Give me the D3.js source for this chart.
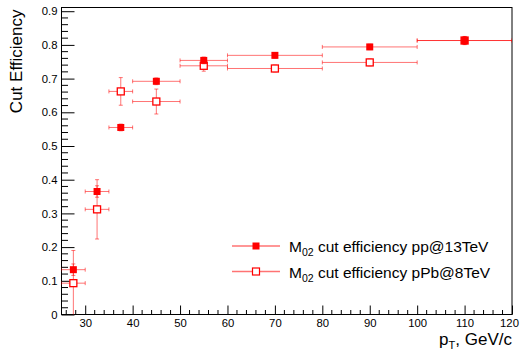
<!DOCTYPE html>
<html><head><meta charset="utf-8">
<script src="https://cdn.jsdelivr.net/npm/d3@7"></script>
<style>body{margin:0;background:#fff}svg{display:block}text{font-family:"Liberation Sans",Arial,sans-serif}</style>
</head><body><svg id="c" width="520" height="353"></svg>
<script>
const binLow  = [25, 30, 35, 40, 50, 60, 80, 100];
const binHigh = [30, 35, 40, 50, 60, 80, 100, 120];
const ppValues  = [0.133, 0.365, 0.555, 0.692, 0.754, 0.769, 0.794, 0.813];
const ppErrors  = [0.017, 0.017, 0.010, 0.010, 0.010, 0.008, 0.008, 0.012];
const pPbValues = [0.093, 0.312, 0.662, 0.632, 0.738, 0.730, 0.748, 0.813];
const pPbErrors = [0.097, 0.088, 0.041, 0.037, 0.016, 0.010, 0.010, 0.012];
const xTicks = [30, 40, 50, 60, 70, 80, 90, 100, 110, 120];
const yTicks = [0, 0.1, 0.2, 0.3, 0.4, 0.5, 0.6, 0.7, 0.8, 0.9];
const legendLabels = ["pp@13TeV", "pPb@8TeV"];

const svg = d3.select("#c");
const L = 61.5, R = 512, T = 7.5, B = 314.5;
const x = d3.scaleLinear().domain([25, 120]).range([L, R]);
const y = d3.scaleLinear().domain([0, 0.911]).range([B, T]);

svg.append("defs").append("clipPath").attr("id","pc")
  .append("rect").attr("x",L).attr("y",T).attr("width",R-L).attr("height",B-T);

// Axes
const xAxis = d3.axisBottom(x).tickValues(xTicks).tickFormat(d3.format("d")).tickSize(-9).tickPadding(4.5);
const gx = svg.append("g").attr("transform",`translate(0,${B})`).call(xAxis);
const xMinor = d3.range(26, 121, 2).filter(v => v % 10 !== 0);
gx.selectAll(".minor").data(xMinor).enter().append("line")
  .attr("x1",d=>x(d)).attr("x2",d=>x(d)).attr("y1",0).attr("y2",-4.5).attr("stroke","#000");
const yAxis = d3.axisLeft(y).tickValues(yTicks).tickFormat(d => d === 0 ? "0" : d3.format(".1f")(d)).tickSize(-13).tickPadding(4);
const gy = svg.append("g").attr("transform",`translate(${L},0)`).call(yAxis);
const yMinor = d3.range(0.02, 0.911, 0.02).filter(v => Math.abs(v*10 - Math.round(v*10)) > 1e-6);
gy.selectAll(".minor").data(yMinor).enter().append("line")
  .attr("x1",0).attr("x2",6.5).attr("y1",d=>y(d)).attr("y2",d=>y(d)).attr("stroke","#000");
[gx, gy].forEach(g => {
  g.select(".domain").remove();
  g.selectAll("text").attr("font-size", 11.3).attr("fill","#000").attr("font-family","Liberation Sans, Arial, sans-serif");
  g.selectAll("line").attr("stroke","#000");
});
gx.selectAll(".tick text").filter(d => d === 120).attr("dx", -3);
// frame
svg.append("rect").attr("x",L).attr("y",T).attr("width",R-L).attr("height",B-T)
  .attr("fill","none").attr("stroke","#000").attr("stroke-width",1);

// titles
svg.append("text").attr("transform",`translate(22,${T+2}) rotate(-90)`).attr("text-anchor","end")
  .attr("font-size",17).text("Cut Efficiency");
const xt = svg.append("text").attr("x",R).attr("y",345).attr("text-anchor","end").attr("font-size",17);
xt.append("tspan").text("p");
xt.append("tspan").attr("font-size",11).attr("dy",4).text("T");
xt.append("tspan").attr("dy",-4).text(", GeV/c");

const errCol = "rgba(255,0,0,0.55)";
function drawSeries(vals, errs, filled) {
  const g = svg.append("g").attr("clip-path","url(#pc)");
  const data = vals.map((v,i)=>({lo:binLow[i], hi:binHigh[i], c:(binLow[i]+binHigh[i])/2, v, e:errs[i]}));
  data.forEach(d => {
    g.append("line").attr("x1",x(d.lo)).attr("x2",x(d.hi)).attr("y1",y(d.v)).attr("y2",y(d.v)).attr("stroke",errCol);
    [d.lo, d.hi].forEach(e => g.append("line").attr("x1",x(e)).attr("x2",x(e)).attr("y1",y(d.v)-2).attr("y2",y(d.v)+2).attr("stroke",errCol));
    g.append("line").attr("x1",x(d.c)).attr("x2",x(d.c)).attr("y1",y(d.v+d.e)).attr("y2",y(d.v-d.e)).attr("stroke",errCol);
    [d.v+d.e, d.v-d.e].forEach(e => g.append("line").attr("x1",x(d.c)-2).attr("x2",x(d.c)+2).attr("y1",y(e)).attr("y2",y(e)).attr("stroke",errCol));
  });
  data.forEach(d => {
    if (filled) g.append("rect").attr("x",x(d.c)-3.5).attr("y",y(d.v)-3.5).attr("width",7).attr("height",7).attr("fill","#f00");
    else g.append("rect").attr("x",x(d.c)-3.5).attr("y",y(d.v)-3.5).attr("width",7).attr("height",7).attr("fill","#fff").attr("stroke","#f00").attr("stroke-width",1.3);
  });
}
drawSeries(pPbValues, pPbErrors, false);
drawSeries(ppValues, ppErrors, true);

// legend
legendLabels.forEach((lab, i) => {
  const ly = 246 + i*25.5;
  svg.append("line").attr("x1",232).attr("x2",280).attr("y1",ly).attr("y2",ly).attr("stroke",errCol).attr("stroke-width",1.3);
  if (i===0) svg.append("rect").attr("x",252.5).attr("y",ly-3.5).attr("width",7).attr("height",7).attr("fill","#f00");
  else svg.append("rect").attr("x",252.5).attr("y",ly-3.5).attr("width",7).attr("height",7).attr("fill","#fff").attr("stroke","#f00").attr("stroke-width",1.2);
  const t = svg.append("text").attr("x",289).attr("y",ly+6).attr("font-size",15.5);
  t.append("tspan").text("M");
  t.append("tspan").attr("font-size",10.5).attr("dy",4).text("02");
  t.append("tspan").attr("dy",-4).text(" cut efficiency " + lab);
});
</script></body></html>
